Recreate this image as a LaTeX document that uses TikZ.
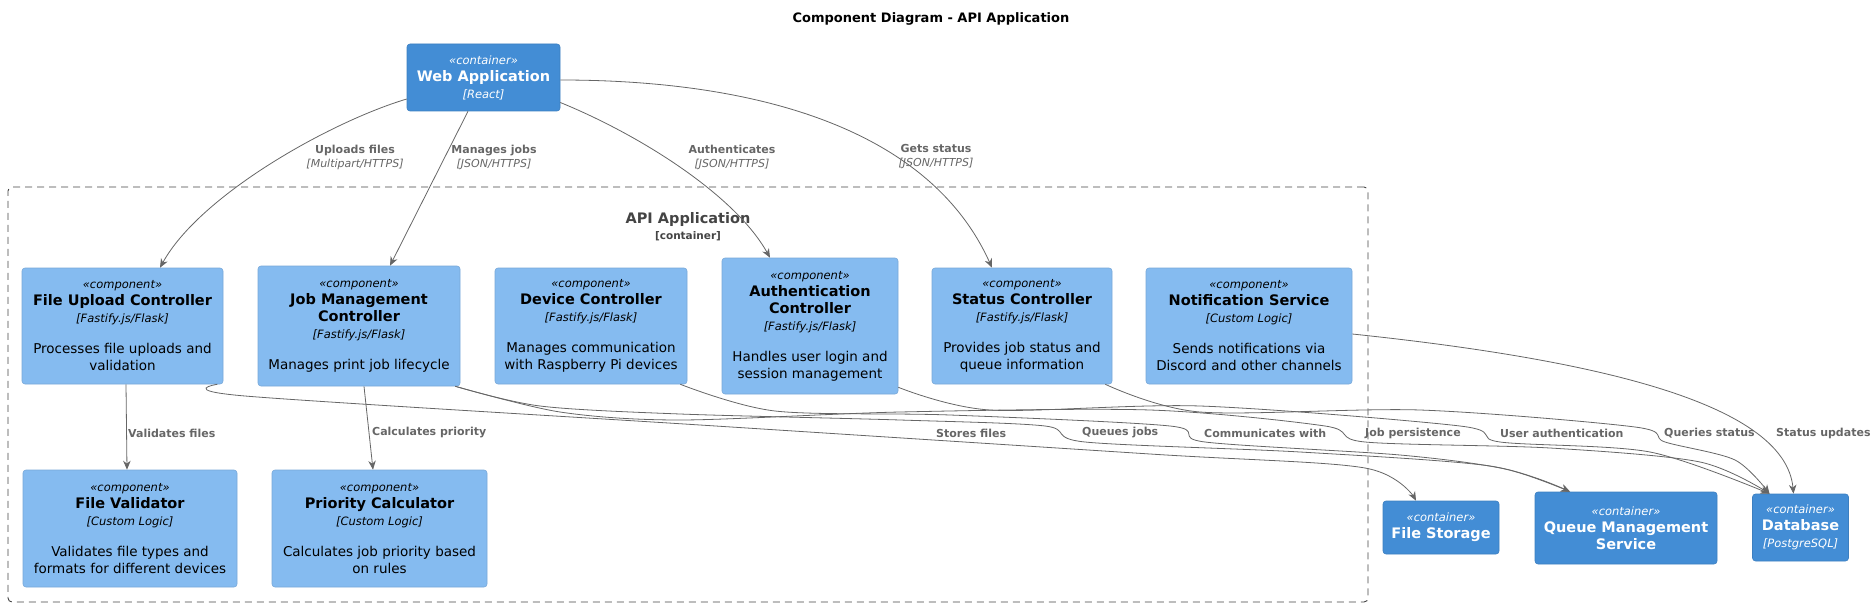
\documentclass[tikz,border=0pt]{standalone}
\usepackage{fontspec}
\setmainfont{DejaVu Sans}
\usetikzlibrary{arrows.meta}
\definecolor{compfill}{HTML}{85BBF0}
\definecolor{compline}{HTML}{78A8D8}
\definecolor{contfill}{HTML}{438DD5}
\definecolor{contline}{HTML}{3C7FC0}
\definecolor{edgecol}{HTML}{666666}
\definecolor{bndcol}{HTML}{444444}
\newcommand\fStereo{\fontsize{11.5}{17}\selectfont\itshape}
\newcommand\fTitle{\fontsize{14.5}{17}\selectfont\bfseries}
\newcommand\fTech{\fontsize{11.5}{17}\selectfont\itshape}
\tikzset{
 base/.style={rounded corners=3pt, align=center, inner sep=0pt, line width=0.6pt, font=\fontsize{13.5}{17}\selectfont},
 comp/.style={base, draw=compline, fill=compfill, text=black},
 cont/.style={base, draw=contline, fill=contfill, text=white},
 sz/.style 2 args={minimum width=#1, minimum height=#2},
 conn/.style={draw=edgecol, line width=0.8pt, -{Stealth[length=9pt,width=7.5pt]}},
 elabel/.style={font=\fontsize{11}{13.5}\selectfont\bfseries, text=edgecol, inner sep=0pt, anchor=west},
 clabel/.style={font=\fontsize{11}{14}\selectfont\bfseries, text=edgecol, inner sep=0pt, align=center},
}
\begin{document}
\begin{tikzpicture}[x=1pt,y=-1pt]
\useasboundingbox (0,0) rectangle (1876,607);
% title
\node[font=\fontsize{13}{15}\selectfont\bfseries, inner sep=0pt] (title) at (931,19) {Component Diagram - API Application};
% boundary
\node[draw=bndcol, dash pattern=on 7pt off 5pt, rounded corners=4pt, line width=0.9pt, sz={1360pt}{415pt}, inner sep=0pt] (bnd) at (688,394.5) {};
\node[font=\fontsize{14.5}{16}\selectfont\bfseries, text=bndcol, inner sep=0pt] (bndt) at (688,219) {API Application};
\node[font=\fontsize{10.5}{12}\selectfont\bfseries, text=bndcol, inner sep=0pt] (bnds) at (688,236) {[container]};
% containers
\node[cont, sz={153pt}{67pt}] (web) at (483.5,77.5) {{\fStereo «container»}\\{\fTitle Web Application}\\{\fTech [React]}};
\node[cont, sz={116pt}{53pt}] (fs) at (1441,527.5) {{\fStereo «container»}\\{\fTitle File Storage}};
\node[cont, sz={182pt}{72pt}] (q) at (1626,528) {{\fStereo «container»}\\{\fTitle Queue Management}\\{\fTitle Service}};
\node[cont, sz={96pt}{67pt}] (db) at (1800.5,527.5) {{\fStereo «container»}\\{\fTitle Database}\\{\fTech [PostgreSQL]}};
% components
\node[comp, sz={201pt}{116pt}] (fuc) at (122.5,326) {{\fStereo «component»}\\{\fTitle File Upload Controller}\\{\fTech [Fastify.js/Flask]}\\[14pt]Processes file uploads and\\validation};
\node[comp, sz={202pt}{120pt}] (jmc) at (359,326) {{\fStereo «component»}\\{\fTitle Job Management}\\{\fTitle Controller}\\{\fTech [Fastify.js/Flask]}\\[14pt]Manages print job lifecycle};
\node[comp, sz={192pt}{116pt}] (dc) at (591,326) {{\fStereo «component»}\\{\fTitle Device Controller}\\{\fTech [Fastify.js/Flask]}\\[14pt]Manages communication\\with Raspberry Pi devices};
\node[comp, sz={176pt}{136pt}] (ac) at (810,326) {{\fStereo «component»}\\{\fTitle Authentication}\\{\fTitle Controller}\\{\fTech [Fastify.js/Flask]}\\[14pt]Handles user login and\\session management};
\node[comp, sz={180pt}{116pt}] (sc) at (1022,326) {{\fStereo «component»}\\{\fTitle Status Controller}\\{\fTech [Fastify.js/Flask]}\\[14pt]Provides job status and\\queue information};
\node[comp, sz={206pt}{116pt}] (ns) at (1249,326) {{\fStereo «component»}\\{\fTitle Notification Service}\\{\fTech [Custom Logic]}\\[14pt]Sends notifications via\\Discord and other channels};
\node[comp, sz={214pt}{117pt}] (fv) at (130,528.5) {{\fStereo «component»}\\{\fTitle File Validator}\\{\fTech [Custom Logic]}\\[14pt]Validates file types and\\formats for different devices};
\node[comp, sz={215pt}{117pt}] (pc) at (379.5,528.5) {{\fStereo «component»}\\{\fTitle Priority Calculator}\\{\fTech [Custom Logic]}\\[14pt]Calculates job priority based\\on rules};
% web app edges
\draw[conn] ([yshift=-21.5pt]web.west) .. controls (330,122) and (200,195) .. ([xshift=37.5pt]fuc.north);
\draw[conn] ([xshift=-15.5pt]web.south) -- ([xshift=31pt]jmc.north);
\draw[conn] ([yshift=-25pt]web.east) .. controls (640,135) and (735,195) .. ([xshift=-40pt]ac.north);
\draw[conn] ([yshift=-2.5pt]web.east) .. controls (760,80) and (930,130) .. ([xshift=-30pt]sc.north);
\node[clabel] (l1) at (355,157) {Uploads files\\{\mdseries\itshape [Multipart/HTTPS]}};
\node[clabel] (l2) at (494,157) {Manages jobs\\{\mdseries\itshape [JSON/HTTPS]}};
\node[clabel] (l3) at (732,157) {Authenticates\\{\mdseries\itshape [JSON/HTTPS]}};
\node[clabel] (l4) at (936,157) {Gets status\\{\mdseries\itshape [JSON/HTTPS]}};
% internal edges
\draw[conn] ([xshift=3.5pt]fuc.south) -- ([xshift=-3pt]fv.north);
\draw[conn] ([xshift=5pt]jmc.south) -- ([xshift=-6.5pt]pc.north);
\node[elabel] (l5) at (128,433) {Validates files};
\node[elabel] (l6) at (372,433) {Calculates priority};
% edges to external containers
\draw[conn] plot[smooth, tension=0.5] coordinates {([xshift=-6pt]fuc.south east) (245,396) (700,425) (1150,454) (1365,468) ([xshift=-25pt]fs.north)};
\draw[conn] plot[smooth, tension=0.5] coordinates {([xshift=-5pt]jmc.south east) (540,406) (680,414) (900,420) (1045,426) (1085,442) (1300,452) (1490,466) ([xshift=-56pt]q.north)};
\draw[conn] plot[smooth, tension=0.5] coordinates {([xshift=-7pt]dc.south east) (775,411) (950,415) (1170,426) (1205,442) (1400,455) (1505,469) ([xshift=-56pt]q.north)};
\draw[conn] plot[smooth, tension=0.5] coordinates {([xshift=-5pt]jmc.south east) (560,412) (680,420) (900,412) (1150,410) (1325,426) (1365,442) (1550,448) (1700,462) ([xshift=-31pt]db.north)};
\draw[conn] plot[smooth, tension=0.5] coordinates {([yshift=7pt]ac.south east) (990,410) (1200,406) (1460,426) (1500,442) (1650,452) ([xshift=-31pt]db.north)};
\draw[conn] plot[smooth, tension=0.5] coordinates {([xshift=-7pt]sc.south east) (1200,412) (1420,410) (1635,427) (1665,442) (1735,460) ([xshift=-31pt]db.north)};
\draw[conn] ([yshift=-8pt]ns.east) .. controls (1580,358) and (1785,400) .. ([xshift=-7pt]db.north);
\node[elabel] (l7) at (936,433) {Stores files};
\node[elabel] (l8) at (1082,433) {Queues jobs};
\node[elabel] (l9) at (1204,433) {Communicates with};
\node[elabel] (l10) at (1365,433) {Job persistence};
\node[elabel] (l11) at (1500,433) {User authentication};
\node[elabel] (l12) at (1664,433) {Queries status};
\node[elabel] (l13) at (1776,433) {Status updates};
\end{tikzpicture}
\end{document}
